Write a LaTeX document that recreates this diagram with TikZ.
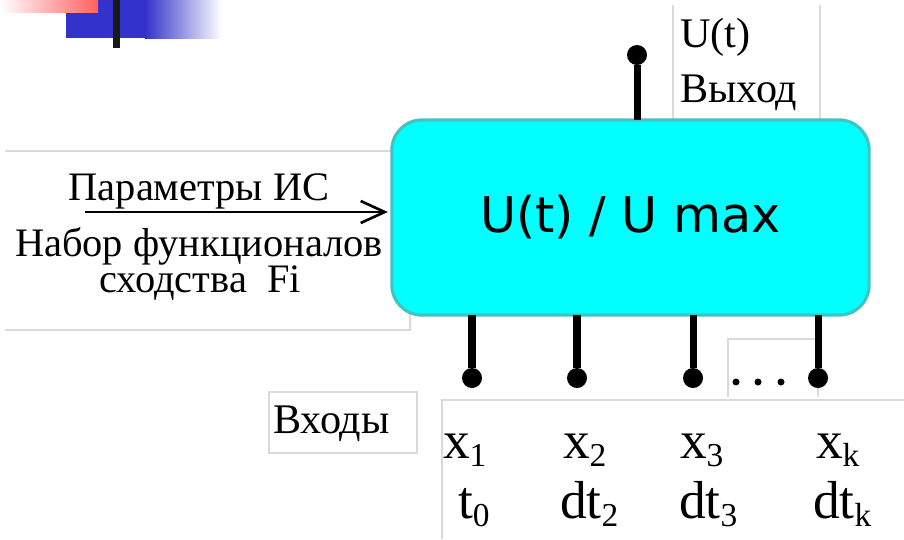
\documentclass[tikz,border=0pt]{standalone}
\usepackage{fontspec}
\setmainfont{Liberation Serif}
\newfontfamily\boxfont{DejaVu Sans}
\usetikzlibrary{arrows.meta}

\definecolor{boxcyan}{RGB}{0,255,255}
\definecolor{boxedge}{RGB}{64,196,196}
\definecolor{barblue}{RGB}{51,51,204}
\definecolor{barpink}{RGB}{255,96,96}
\definecolor{framegray}{RGB}{218,218,218}

% subscript a bit lower than the usual one
\newcommand{\lowsub}[1]{\raisebox{-0.08cm}{\fontsize{9.5}{9.5}\selectfont #1}}

\begin{document}
\begin{tikzpicture}[
		x=0.01cm, y=-0.01cm,
		every node/.style={inner sep=0pt, outer sep=0pt},
		mainbox/.style={fill=boxcyan, draw=boxedge, line width=0.9pt, rounded corners=0.3cm,
			minimum width=4.77cm, minimum height=1.95cm, font=\boxfont\fontsize{14}{17}\selectfont},
		pin/.style={line width=2pt},
		pindot/.style={circle, fill=black, minimum size=0.2cm},
		smalldot/.style={circle, fill=black, minimum size=0.07cm},
		frame/.style={draw=framegray, line width=0.5pt},
		lbl/.style={anchor=base west, font=\fontsize{12}{14}\selectfont},
		leftlbl/.style={anchor=base, font=\fontsize{11.5}{13}\selectfont},
		inlbl/.style={anchor=base west, font=\fontsize{15.2}{18}\selectfont}
		]
		
		\fill[white] (0,0) rectangle (904,539);
		\useasboundingbox (0,0) rectangle (904,539);
		
		% ---- уголок слайда ----
		\fill[barblue] (66,0) rectangle (146,38);
		\shade[left color=barblue, right color=white] (145,0) rectangle (222,38);
		\shade[left color=white, right color=barpink] (0,0) rectangle (98,12);
		\fill[black!90] (113,0) rectangle (120,48);
		
		% ---- рамки надписей ----
		\draw[frame] (673,5) -- (673,120);
		\draw[frame] (820,5) -- (820,120);
		\draw[frame] (5,151) -- (410,151) -- (410,330) -- (5,330);
		\draw[frame] (728,397) -- (728,339) -- (818,339) -- (818,397);
		\draw[frame] (442,539) -- (442,400) -- (904,400);
		\draw[frame] (269,392) rectangle (417,453);
		
		% ---- блок ----
		\node[mainbox] (box) at (630.5,217.5) {U(t) / U max};
		
		% ---- выход ----
		\node[pindot] (dout) at (637,55) {};
		\draw[pin] (dout) -- (dout |- box.north);
		\node[lbl] (outu) at (680,47) {U(t)};
		\node[lbl] (outv) at (680,102) {Выход};
		
		% ---- входы ----
		\node[pindot] (d1) at (472,378) {};
		\node[pindot] (d2) at (577,378) {};
		\node[pindot] (d3) at (693,378) {};
		\node[pindot] (dk) at (818,378) {};
		\foreach \d in {d1,d2,d3,dk}
			\draw[pin] (\d) -- (\d |- box.south);
		
		\node[smalldot] (e1) at (736,382) {};
		\node[smalldot] (e2) at (758,382) {};
		\node[smalldot] (e3) at (781,382) {};
		
		\node[lbl] (vx) at (273,433) {Входы};
		
		\node[inlbl] (x1) at (443,458) {x\lowsub{1}};
		\node[inlbl] (x2) at (563,458) {x\lowsub{2}};
		\node[inlbl] (x3) at (680,458) {x\lowsub{3}};
		\node[inlbl] (xk) at (816,458) {x\lowsub{k}};
		\node[inlbl] (t0) at (458,518) {t\lowsub{0}};
		\node[inlbl] (dt2) at (560,518) {dt\lowsub{2}};
		\node[inlbl] (dt3) at (679,518) {dt\lowsub{3}};
		\node[inlbl] (dtk) at (813,518) {dt\lowsub{k}};
		
		% ---- параметры слева ----
		\coordinate (arr) at (85,212);
		\draw[line width=0.75pt, -{Straight Barb[length=0.24cm, width=0.22cm]}, shorten >=0.04cm]
			(arr) -- (arr -| box.west);
		\node[leftlbl] (par) at (199,200) {Параметры ИС};
		\node[leftlbl] (nab) at (199,256) {Набор функционалов};
		\node[leftlbl] (sxo) at (200,292) {сходства\ \ Fi};
	\end{tikzpicture}
\end{document}
